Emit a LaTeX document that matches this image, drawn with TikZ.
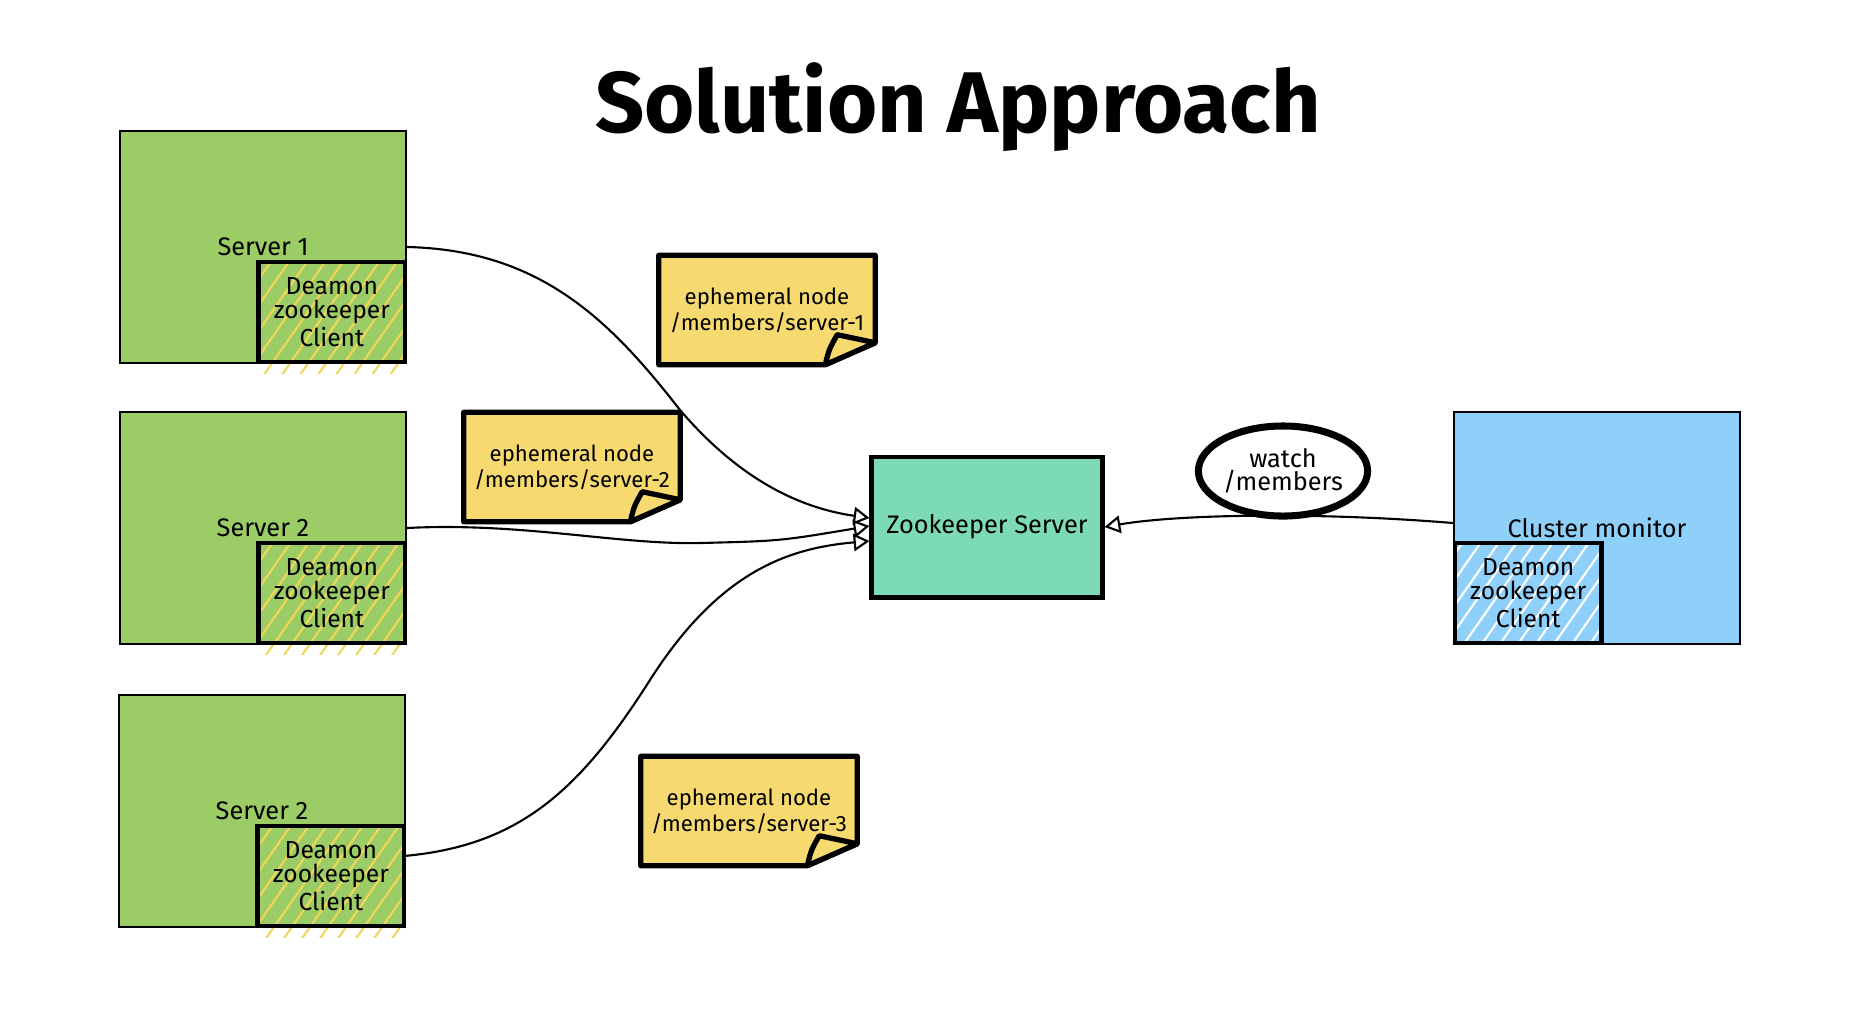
\documentclass[tikz,border=0pt]{standalone}
\usepackage{fontspec}
\setmainfont{Fira Sans}
\usetikzlibrary{arrows.meta,shapes.geometric,patterns.meta,backgrounds}

\definecolor{servergreen}{RGB}{156,204,101}
\definecolor{hatchyellow}{RGB}{242,214,90}
\definecolor{noteyellow}{RGB}{246,218,112}
\definecolor{zkteal}{RGB}{124,219,180}
\definecolor{monitorblue}{RGB}{143,208,250}

\tikzset{
  serverbox/.style={draw, line width=0.6pt, inner sep=0pt, minimum width=2.86cm, minimum height=2.32cm, font=\fontsize{7.2}{8}\selectfont},
  clientbox/.style={draw, line width=1.3pt, inner sep=0pt, minimum width=1.46cm, minimum height=1cm, align=center, font=\fontsize{7}{6.8}\selectfont},
  hatch/.style={pattern={Lines[angle=55,distance=4.2pt,line width=0.6pt]}, pattern color=#1},
  notebox/.style={inner sep=0pt, minimum width=2.15cm, minimum height=1.08cm, align=center, font=\fontsize{6.3}{6}\selectfont},
  notepaper/.style={line width=1.5pt, line join=round, fill=noteyellow},
  link/.style={line width=0.6pt, -{Triangle[open,length=4.5pt,width=5pt]}},
}

\begin{document}
\begin{tikzpicture}[x=0.01cm, y=-0.01cm]
  \useasboundingbox (0,0) rectangle (1850,1035);

  \node[font=\fontsize{24.5}{24}\selectfont\bfseries, anchor=base] (title) at (958,132) {Solution Approach};

  % servers with their clients
  \node[serverbox, fill=servergreen] (s1) at (263,247) {Server 1};
  \node[serverbox, fill=servergreen] (s2) at (263,528) {Server 2};
  \node[serverbox, fill=servergreen] (s3) at (262,811) {Server 2};
  \foreach \s/\c in {s1/c1, s2/c2, s3/c3} {
    \fill[hatch=hatchyellow] ([yshift=-0.09cm]\s.south east) rectangle ([xshift=-1.46cm]\s.south east);
    \node[clientbox, hatch=hatchyellow, anchor=south east] (\c) at (\s.south east) {Deamon\\zookeeper\\Client};
  }

  \node[draw, line width=1.4pt, fill=zkteal, minimum width=2.3cm, minimum height=1.4cm, inner sep=0pt, font=\fontsize{7.2}{8}\selectfont] (zk) at (987,527) {Zookeeper Server};

  \node[serverbox, fill=monitorblue] (cm) at (1597,528) {Cluster monitor};
  \fill[hatch=white] ([yshift=-0.09cm]cm.south west) rectangle ([xshift=1.46cm]cm.south west);
  \node[clientbox, hatch=white, anchor=south west] (c4) at (cm.south west) {Deamon\\zookeeper\\Client};

  % sticky notes
  \node[notebox] (n1) at (767,310) {ephemeral node\\/members/server-1};
  \node[notebox] (n2) at (572,467) {ephemeral node\\/members/server-2};
  \node[notebox] (n3) at (749,811) {ephemeral node\\/members/server-3};
  \begin{scope}[on background layer]
    \foreach \n in {n1,n2,n3} {
      \draw[notepaper] (\n.north west) -- (\n.north east) -- ([yshift=0.22cm]\n.south east)
        -- ([xshift=-0.5cm]\n.south east) -- (\n.south west) -- cycle;
      \draw[notepaper] ([xshift=-0.5cm]\n.south east) .. controls ([xshift=-0.46cm,yshift=0.16cm]\n.south east)
        .. ([xshift=-0.38cm,yshift=0.3cm]\n.south east) -- ([yshift=0.22cm]\n.south east) -- cycle;
    }
  \end{scope}

  % links to the zookeeper server
  \draw[link] (s1.east) .. controls (540,250) and (610,320) .. (680,410)
    .. controls (740,480) and (800,508) .. ([yshift=0.09cm]zk.west);
  \draw[link] (s2.east) .. controls (520,522) and (620,545) .. (700,543)
    .. controls (780,541) .. ([yshift=0.01cm]zk.west);
  \draw[link] ([yshift=0.2cm]c3.east) .. controls (520,845) and (580,790) .. (650,680)
    .. controls (720,570) and (790,548) .. ([yshift=-0.14cm]zk.west);

  \node[ellipse, draw, line width=2pt, fill=white, minimum width=1.62cm, minimum height=0.9cm, inner sep=0pt, align=center, font=\fontsize{7.2}{6.6}\selectfont] (w) at (1283,471) {watch\\/members};

  \draw[link] ([yshift=0.05cm]cm.west) .. controls (1320,512) and (1180,514) .. (zk.east);
\end{tikzpicture}
\end{document}
